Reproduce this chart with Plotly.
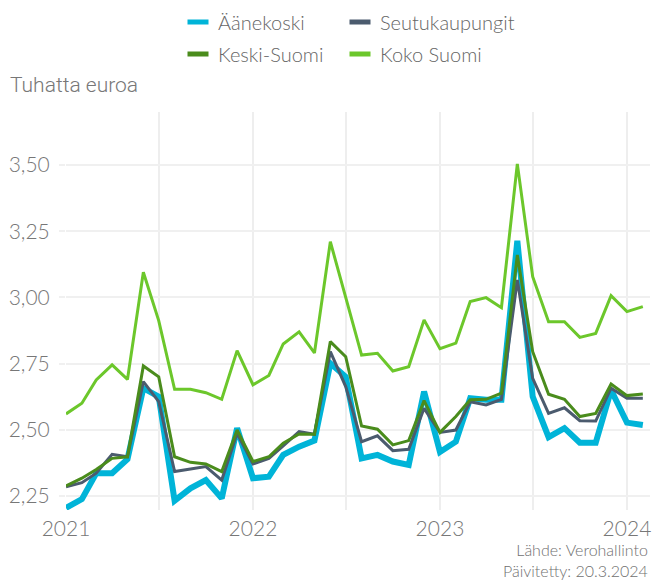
import pandas as pd
import plotly.graph_objects as go

# Monthly average values, thousands of euros (Jan 2021 - Feb 2024)
months = pd.date_range("2021-01-01", periods=38, freq="MS")

aanekoski = [2.205, 2.238, 2.336, 2.336, 2.389, 2.657, 2.625, 2.232, 2.279, 2.310, 2.241, 2.506,
             2.317, 2.323, 2.405, 2.436, 2.459, 2.751, 2.700, 2.392, 2.405, 2.380, 2.367, 2.644,
             2.416, 2.455, 2.619, 2.613, 2.613, 3.214, 2.625, 2.472, 2.506, 2.451, 2.451, 2.650,
             2.527, 2.518]
seutukaupungit = [2.285, 2.300, 2.336, 2.407, 2.398, 2.682, 2.606, 2.342, 2.352, 2.361, 2.310, 2.487,
                  2.371, 2.392, 2.439, 2.493, 2.483, 2.795, 2.663, 2.455, 2.477, 2.421, 2.426, 2.581,
                  2.490, 2.499, 2.606, 2.594, 2.615, 3.066, 2.694, 2.562, 2.583, 2.534, 2.533, 2.657,
                  2.619, 2.619]
keski_suomi = [2.288, 2.317, 2.350, 2.392, 2.398, 2.741, 2.700, 2.398, 2.377, 2.371, 2.342, 2.499,
               2.380, 2.398, 2.449, 2.484, 2.483, 2.833, 2.776, 2.514, 2.502, 2.443, 2.459, 2.610,
               2.490, 2.550, 2.613, 2.615, 2.638, 3.160, 2.795, 2.634, 2.615, 2.550, 2.562, 2.673,
               2.629, 2.635]
koko_suomi = [2.560, 2.600, 2.688, 2.745, 2.690, 3.095, 2.912, 2.653, 2.653, 2.640, 2.615, 2.799,
              2.670, 2.705, 2.824, 2.870, 2.790, 3.210, 3.000, 2.782, 2.789, 2.722, 2.738, 2.915,
              2.806, 2.827, 2.984, 2.999, 2.961, 3.504, 3.078, 2.908, 2.908, 2.849, 2.864, 3.006,
              2.946, 2.965]

# name, values, colour, line width, legend id, legend key position (px from left, px from top)
series = [
    ("Äänekoski", aanekoski, "#00b4d8", 6, "legend", 178, 22),
    ("Seutukaupungit", seutukaupungit, "#4b5b6e", 3, "legend2", 340, 22),
    ("Keski-Suomi", keski_suomi, "#4a8c1c", 3, "legend3", 178, 54),
    ("Koko Suomi", koko_suomi, "#6cc72b", 3, "legend4", 340, 54),
]

y_ticks = [2.25, 2.50, 2.75, 3.00, 3.25, 3.50]
x_ticks = ["2021-01-01", "2022-01-01", "2023-01-01", "2024-01-01"]
x_tick_text = ["2021", "2022", "2023", "2024"]

W, H = 652, 581
fig = go.Figure()

# data lines
for name, vals, color, width, *_ in series:
    fig.add_trace(go.Scatter(
        x=months, y=vals, mode="lines", name=name, showlegend=False,
        line=dict(color=color, width=width, shape="linear"),
    ))

# short bar-like legend keys
for name, vals, color, width, lg, lx, ly in series:
    fig.add_trace(go.Scatter(
        x=[None], y=[None], mode="markers", name=name, legend=lg,
        marker=dict(symbol="line-ew", size=15, color=color,
                    line=dict(color=color, width=5)),
    ))

tick_font = dict(family="Lato", size=21, color="#777777", weight=300)
legends = {}
for name, vals, color, width, lg, lx, ly in series:
    legends[lg] = dict(
        orientation="h", xref="container", yref="container",
        x=lx / W, y=1 - ly / H, xanchor="left", yanchor="middle",
        font=dict(family="Lato", size=20, color="#666666", weight=300),
        bgcolor="rgba(0,0,0,0)", itemclick=False,
    )

fig.update_layout(
    width=W, height=H,
    margin=dict(l=66, r=2, t=112, b=71),
    paper_bgcolor="white", plot_bgcolor="white",
    separators=", ",
    showlegend=True,
    **legends,
    xaxis=dict(
        type="date", range=["2021-01-01", "2024-02-15"],
        tickvals=x_ticks, ticktext=x_tick_text, tickfont=tick_font,
        showgrid=True, gridcolor="#eeeeee", gridwidth=2,
        minor=dict(dtick="M6", tick0="2021-01-01", showgrid=True,
                   gridcolor="#eeeeee", gridwidth=2),
        ticks="", showline=False, zeroline=False, ticklabelstandoff=4,
    ),
    yaxis=dict(
        range=[2.197, 3.70], tickvals=y_ticks, tickformat=".2f",
        tickfont=tick_font, showgrid=True, gridcolor="#f0f0f0", gridwidth=2,
        ticks="outside", ticklen=6, tickwidth=2, tickcolor="#f0f0f0",
        showline=False, zeroline=False, ticklabelstandoff=5,
    ),
    annotations=[
        dict(text="Tuhatta euroa", xref="paper", yref="paper",
             x=-58 / 584, y=1 + 27 / 398, xanchor="left", yanchor="middle",
             showarrow=False,
             font=dict(family="Roboto", size=21, color="#777777", weight=300)),
        dict(text="Lähde: Verohallinto<br>Päivitetty: 20.3.2024", xref="paper", yref="paper",
             x=1.0, y=-(560 - 510) / 398, xanchor="right", yanchor="middle", align="right",
             showarrow=False, font=dict(family="Lato", size=16, color="#707070", weight=300)),
    ],
)

fig.write_html("out.html")
